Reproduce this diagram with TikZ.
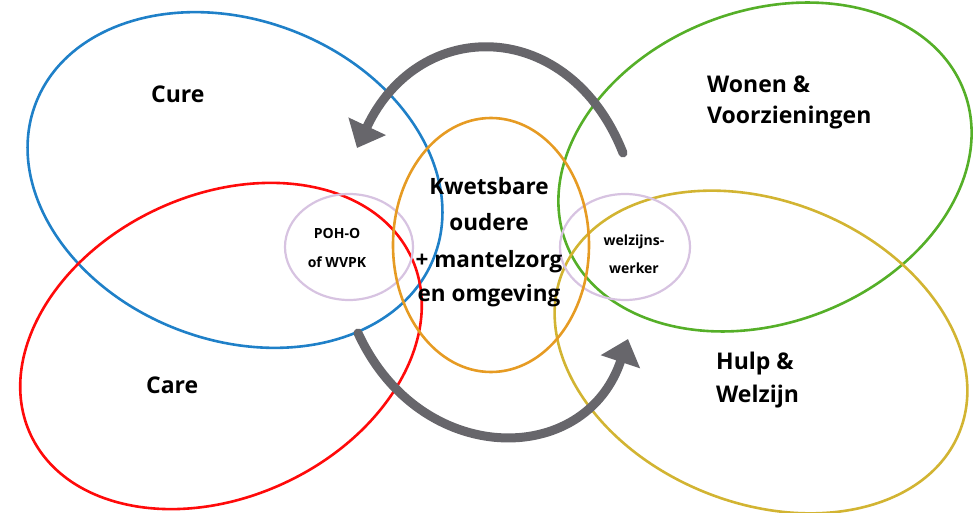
\documentclass[tikz,border=0pt]{standalone}
\usepackage{fontspec}
\setmainfont{Open Sans}
\usetikzlibrary{arrows.meta}
\definecolor{cblue}{RGB}{31,128,200}
\definecolor{cred}{RGB}{255,10,10}
\definecolor{corange}{RGB}{230,155,35}
\definecolor{cgreen}{RGB}{85,175,40}
\definecolor{cyellow}{RGB}{210,180,50}
\definecolor{clav}{RGB}{215,195,225}
\definecolor{cgray}{RGB}{103,102,107}
\tikzset{
  ring/.style={line width=2.6pt},
  smallring/.style={line width=2.2pt, draw=clav},
  bigtxt/.style={font=\fontsize{23}{27}\bfseries\selectfont, inner sep=0pt, anchor=base west},
  midtxt/.style={font=\fontsize{22.5}{26}\bfseries\selectfont, inner sep=0pt, anchor=base},
  smalltxt/.style={font=\fontsize{14}{16}\bfseries\selectfont, inner sep=0pt, anchor=base},
  bigarrow/.style={draw=cgray, line width=9pt, line cap=round, -{Triangle[length=24pt,width=40pt]}}
}
\begin{document}
\begin{tikzpicture}[x=1pt,y=-1pt]
\useasboundingbox (0,0) rectangle (977,513);
% big ellipses
\draw[ring, draw=cblue, rotate around={-21:(235,180)}] (235,180) ellipse (213.5 and 160);
\draw[ring, draw=cred, rotate around={25:(221,346)}] (221,346) ellipse (210 and 151);
\draw[ring, draw=cgreen, rotate around={21:(765,167)}] (765,167) ellipse (213 and 156);
\draw[ring, draw=cyellow, rotate around={-22:(761,352)}] (761,352) ellipse (214 and 151);
% small ellipses
\draw[smallring] (349,247) ellipse (64 and 53);
\draw[smallring] (625,247) ellipse (65 and 53);
% center ellipse
\draw[ring, draw=corange] (491,245) ellipse (98 and 127);
% arrows
\coordinate (a1s) at (623,153);
\coordinate (a1e) at (357,148);
\coordinate (a2s) at (358,333);
\coordinate (a2e) at (628,339);
\draw[bigarrow] (a1s) .. controls (570,18) and (420,14) .. (a1e);
\draw[bigarrow] (a2s) .. controls (420,468) and (585,468) .. (a2e);
% texts
\node[bigtxt] (cure) at (151,103) {Cure};
\node[bigtxt] (care) at (146,393) {Care};
\node[bigtxt] (won1) at (707,93) {Wonen \&};
\node[bigtxt] (won2) at (707,124) {Voorzieningen};
\node[bigtxt] (hul1) at (716,369) {Hulp \&};
\node[bigtxt] (hul2) at (716,402) {Welzijn};
\node[midtxt] (k1) at (489,195) {Kwetsbare};
\node[midtxt] (k2) at (489,230) {oudere};
\node[midtxt] (k3) at (489,267) {+ mantelzorg};
\node[midtxt] (k4) at (489,301) {en omgeving};
\node[smalltxt] (p1) at (337,238) {POH-O};
\node[smalltxt] (p2) at (337,267) {of WVPK};
\node[smalltxt] (w1) at (634,245) {welzijns-};
\node[smalltxt] (w2) at (634,273) {werker};
\end{tikzpicture}
\end{document}
